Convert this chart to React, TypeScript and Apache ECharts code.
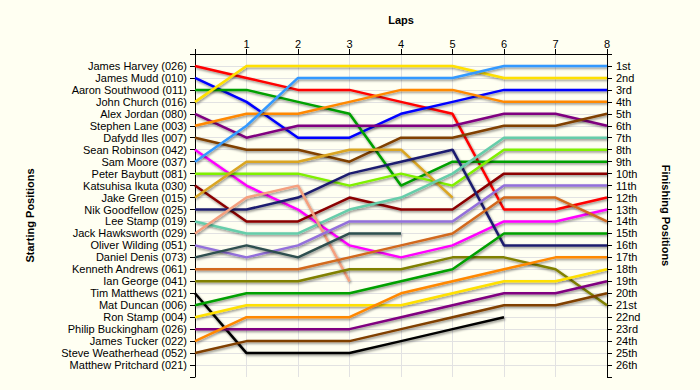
import React, { useEffect, useRef } from "react";
import * as echarts from "echarts";

const drivers = [
  "James Harvey (026)", "James Mudd (010)", "Aaron Southwood (011)", "John Church (016)",
  "Alex Jordan (080)", "Stephen Lane (003)", "Dafydd Iles (007)", "Sean Robinson (042)",
  "Sam Moore (037)", "Peter Baybutt (081)", "Katsuhisa Ikuta (030)", "Jake Green (015)",
  "Nik Goodfellow (025)", "Lee Stamp (019)", "Jack Hawksworth (029)", "Oliver Wilding (051)",
  "Daniel Denis (073)", "Kenneth Andrews (061)", "Ian George (041)", "Tim Matthews (021)",
  "Mat Duncan (006)", "Ron Stamp (004)", "Philip Buckingham (026)", "James Tucker (022)",
  "Steve Weatherhead (052)", "Matthew Pritchard (021)",
];

const finishingLabels = [
  "1st", "2nd", "3rd", "4th", "5th", "6th", "7th", "8th", "9th", "10th", "11th", "12th", "13th",
  "14th", "15th", "16th", "17th", "18th", "19th", "20th", "21st", "22nd", "23rd", "24th", "25th", "26th",
];

const lapLabels = ["1", "2", "3", "4", "5", "6", "7", "8"];

// position of each driver at lap 0..n (lap 0 = grid position)
const positions: number[][] = [
  [1, 2, 3, 3, 4, 5, 13, 13, 12],
  [2, 4, 7, 7, 5, 4, 3, 3, 3],
  [3, 3, 4, 5, 11, 9, 9, 9, 9],
  [4, 1, 1, 1, 1, 1, 2, 2, 2],
  [5, 7, 6, 6, 6, 6, 5, 5, 6],
  [6, 5, 5, 4, 3, 3, 4, 4, 4],
  [7, 8, 8, 9, 7, 7, 6, 6, 5],
  [8, 11, 13, 16, 17, 16, 14, 14, 13],
  [9, 6, 2, 2, 2, 2, 1, 1, 1],
  [10, 10, 10, 11, 10, 11, 8, 8, 8],
  [11, 14, 14, 12, 13, 13, 10, 10, 10],
  [12, 9, 9, 8, 8, 12],
  [13, 13, 12, 10, 9, 8, 16, 16, 16],
  [14, 15, 15, 13, 12, 10, 7, 7, 7],
  [15, 12, 11, 19],
  [16, 17, 16, 14, 14, 14, 11, 11, 11],
  [17, 16, 17, 15, 15],
  [18, 18, 18, 17, 16, 15, 12, 12, 14],
  [19, 19, 19, 18, 18, 17, 17, 18, 21],
  [20, 25, 25, 25, 24, 23, 22],
  [21, 20, 20, 20, 19, 18, 15, 15, 15],
  [22, 21, 21, 21, 21, 20, 19, 19, 18],
  [23, 23, 23, 23, 22, 21, 20, 20, 19],
  [24, 22, 22, 22, 20, 19, 18, 17, 17],
  [25, 24, 24, 24, 23, 22, 21, 21, 20],
  [26],
];

const colors = [
  "#FF0000", "#0000FF", "#00A000", "#FFE000", "#800080", "#FF8800", "#804000", "#FF00FF",
  "#3399FF", "#80F000", "#8B0000", "#DAA520", "#1F1F70", "#66CDAA", "#F5A07F", "#9370DB",
  "#2F4F4F", "#D2691E", "#808000", "#000000", "#00A000", "#FFE000", "#800080", "#FF8800",
  "#804000", "#FF00FF",
];

const FONT = "'Liberation Sans', Arial, sans-serif";

export default function App() {
  const ref = useRef<HTMLDivElement>(null);
  useEffect(() => {
    document.body.style.margin = "0";
    const chart = echarts.init(ref.current!, null, { renderer: "svg" });
    const axisLine = { show: true, lineStyle: { color: "#000", width: 1 } };
    const axisTick = { show: true, length: 5, inside: false, lineStyle: { color: "#000" } };
    const gridLine = { show: true, showMinLine: false, showMaxLine: false, lineStyle: { color: "#E2E2E2", width: 1 } };
    chart.setOption({
      animation: false,
      backgroundColor: "#FFFFF2",
      textStyle: { fontFamily: FONT },
      grid: { left: 195, right: 93, top: 54, bottom: 13 },
      xAxis: {
        type: "value",
        position: "top",
        min: 0,
        max: 8,
        interval: 1,
        name: "Laps",
        nameLocation: "middle",
        nameGap: 29,
        nameTextStyle: { fontWeight: "bold", fontSize: 11, color: "#000", fontFamily: FONT },
        axisLine,
        axisTick,
        splitLine: gridLine,
        axisLabel: {
          margin: 5,
          fontSize: 11,
          color: "#000",
          fontFamily: FONT,
          formatter: (v: number) => (v >= 1 ? lapLabels[v - 1] ?? "" : ""),
        },
      },
      yAxis: [
        {
          type: "value",
          position: "left",
          inverse: true,
          min: 0,
          max: 27,
          interval: 1,
          name: "Starting Positions",
          nameLocation: "middle",
          nameRotate: 90,
          nameGap: 160,
          nameTextStyle: { fontWeight: "bold", fontSize: 11, color: "#000", fontFamily: FONT },
          axisLine,
          axisTick,
          splitLine: gridLine,
          axisLabel: {
            margin: 8,
            fontSize: 11,
            color: "#000",
            fontFamily: FONT,
            formatter: (v: number) => drivers[v - 1] ?? "",
          },
        },
        {
          type: "value",
          position: "right",
          inverse: true,
          min: 0,
          max: 27,
          interval: 1,
          name: "Finishing Positions",
          nameLocation: "middle",
          nameRotate: -90,
          nameGap: 53,
          nameTextStyle: { fontWeight: "bold", fontSize: 11, color: "#000", fontFamily: FONT },
          axisLine,
          axisTick,
          splitLine: { show: false },
          axisLabel: {
            margin: 9,
            fontSize: 11,
            color: "#000",
            fontFamily: FONT,
            formatter: (v: number) => finishingLabels[v - 1] ?? "",
          },
        },
      ],
      series: drivers.map((name, i) => ({
        type: "line",
        name,
        yAxisIndex: 0,
        data: positions[i].map((p, lap) => [lap, p]),
        symbol: "none",
        silent: true,
        itemStyle: { color: colors[i] },
        lineStyle: {
          color: colors[i],
          width: 2.5,
          shadowColor: "rgba(0,0,0,0.45)",
          shadowBlur: 2,
          shadowOffsetX: 1,
          shadowOffsetY: 1.5,
        },
      })),
    });
    return () => chart.dispose();
  }, []);
  return <div ref={ref} style={{ width: 700, height: 390 }} />;
}
